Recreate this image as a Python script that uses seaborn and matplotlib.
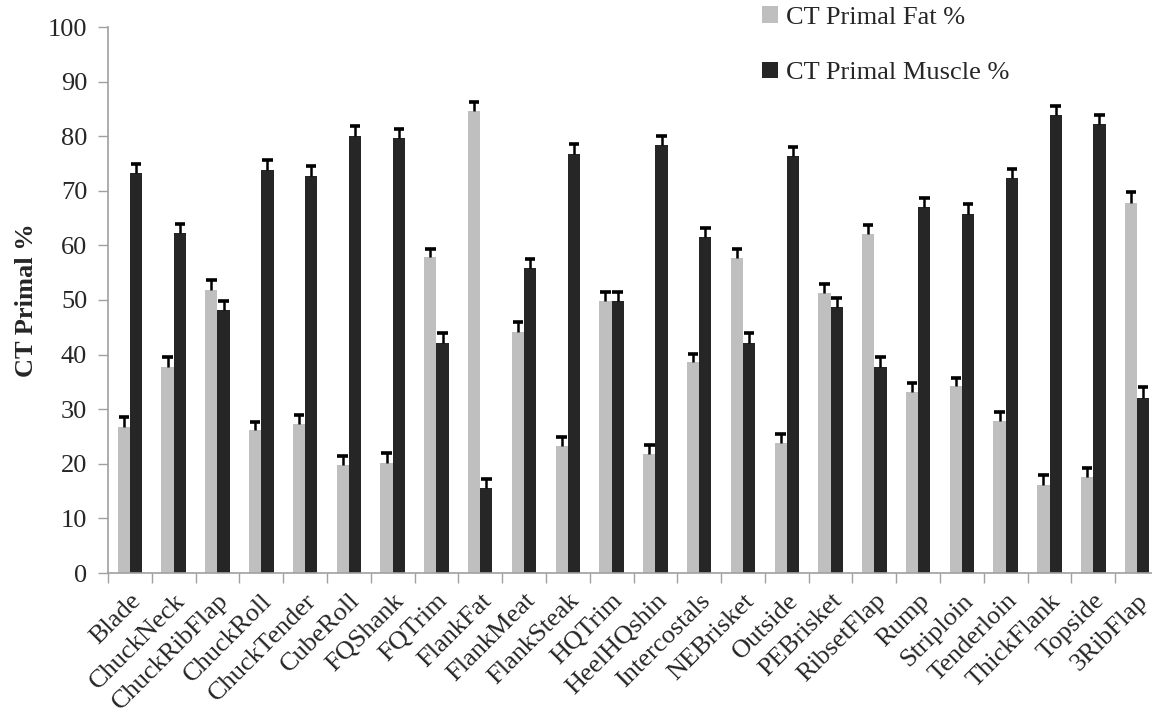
import matplotlib
matplotlib.use('Agg')
import matplotlib.pyplot as plt
import numpy as np
import pandas as pd
import seaborn as sns
from matplotlib.patches import Patch
from matplotlib.ticker import FixedLocator, NullFormatter

cuts = ['Blade', 'ChuckNeck', 'ChuckRibFlap', 'ChuckRoll', 'ChuckTender', 'CubeRoll',
        'FQShank', 'FQTrim', 'FlankFat', 'FlankMeat', 'FlankSteak', 'HQTrim',
        'HeelHQshin', 'Intercostals', 'NEBrisket', 'Outside', 'PEBrisket', 'RibsetFlap',
        'Rump', 'Striploin', 'Tenderloin', 'ThickFlank', 'Topside', '3RibFlap']
fat = [26.8, 37.8, 51.8, 26.1, 27.3, 19.8, 20.2, 57.8, 84.7, 44.2, 23.3, 49.8,
       21.8, 38.6, 57.7, 23.8, 51.3, 62.1, 33.2, 34.2, 27.8, 16.2, 17.6, 67.8]
muscle = [73.2, 62.2, 48.2, 73.9, 72.8, 80.0, 79.6, 42.2, 15.5, 55.8, 76.7, 49.8,
          78.3, 61.5, 42.2, 76.4, 48.7, 37.8, 67.0, 65.8, 72.3, 83.8, 82.2, 32.1]
fat_err = [1.7, 1.7, 1.8, 1.6, 1.7, 1.6, 1.7, 1.6, 1.6, 1.7, 1.7, 1.7,
           1.7, 1.6, 1.6, 1.6, 1.6, 1.6, 1.6, 1.6, 1.6, 1.7, 1.7, 1.9]
muscle_err = [1.8, 1.8, 1.7, 1.8, 1.7, 1.8, 1.7, 1.8, 1.7, 1.8, 1.8, 1.7,
              1.7, 1.7, 1.8, 1.7, 1.7, 1.7, 1.7, 1.7, 1.7, 1.8, 1.7, 2.0]
series = ['CT Primal Fat %', 'CT Primal Muscle %']
colors = ['#BFBFBF', '#262626']

df = pd.DataFrame({
    'cut': cuts * 2,
    'series': [series[0]] * len(cuts) + [series[1]] * len(cuts),
    'value': fat + muscle,
})

sns.set_style('white')
plt.rcParams['font.family'] = ['Liberation Serif', 'DejaVu Serif']
FS = 19

fig = plt.figure(figsize=(11.52, 7.19), dpi=100)
ax = fig.add_axes([108 / 1152, 1 - 573 / 719, 1051 / 1152, 546 / 719])

sns.barplot(data=df, x='cut', y='value', hue='series', order=cuts, hue_order=series,
            palette=colors, width=0.56, linewidth=0, saturation=1, errorbar=None,
            legend=False, ax=ax)

# upper-only error bars: stem from bar top plus a cap
for cont, errs in zip(ax.containers, [fat_err, muscle_err]):
    xs = np.array([b.get_x() + b.get_width() / 2 for b in cont])
    hs = np.array([b.get_height() for b in cont])
    tops = hs + np.array(errs)
    ax.vlines(xs, hs, tops, color='black', linewidth=1.8, zorder=3)
    ax.hlines(tops, xs - 0.12, xs + 0.12, color='black', linewidth=2.6, zorder=3)

ax.set_ylim(0, 100)
ax.set_xlim(-0.5, len(cuts) - 0.5)
ax.set_yticks(np.arange(0, 101, 10))
ax.tick_params(axis='y', labelsize=FS, length=7, width=1, color='#A0A0A0',
               left=True, pad=8)
ax.set_xticks(range(len(cuts)))
ax.set_xticklabels(cuts, rotation=45, ha='right', rotation_mode='anchor', fontsize=FS)
ax.tick_params(axis='x', which='major', length=0, pad=12)
ax.xaxis.set_minor_locator(FixedLocator(np.arange(-0.5, len(cuts), 1.0)))
ax.xaxis.set_minor_formatter(NullFormatter())
ax.tick_params(axis='x', which='minor', length=7, width=1, color='#A0A0A0', bottom=True)

for s in ['top', 'right']:
    ax.spines[s].set_visible(False)
for s in ['left', 'bottom']:
    ax.spines[s].set_color('#A0A0A0')
    ax.spines[s].set_linewidth(1.2)

ax.set_xlabel('')
ax.set_ylabel('CT Primal %', fontsize=FS, fontweight='bold', labelpad=7)

handles = [Patch(facecolor=c, edgecolor='none') for c in colors]
fig.legend(handles, series, loc='upper left', bbox_to_anchor=(762 / 1152, 1 - 6 / 719),
           frameon=False, fontsize=FS, handlelength=0.6, handleheight=0.6,
           handletextpad=0.3, labelspacing=1.25, borderpad=0, borderaxespad=0)

fig.savefig('out.png', dpi=100)
